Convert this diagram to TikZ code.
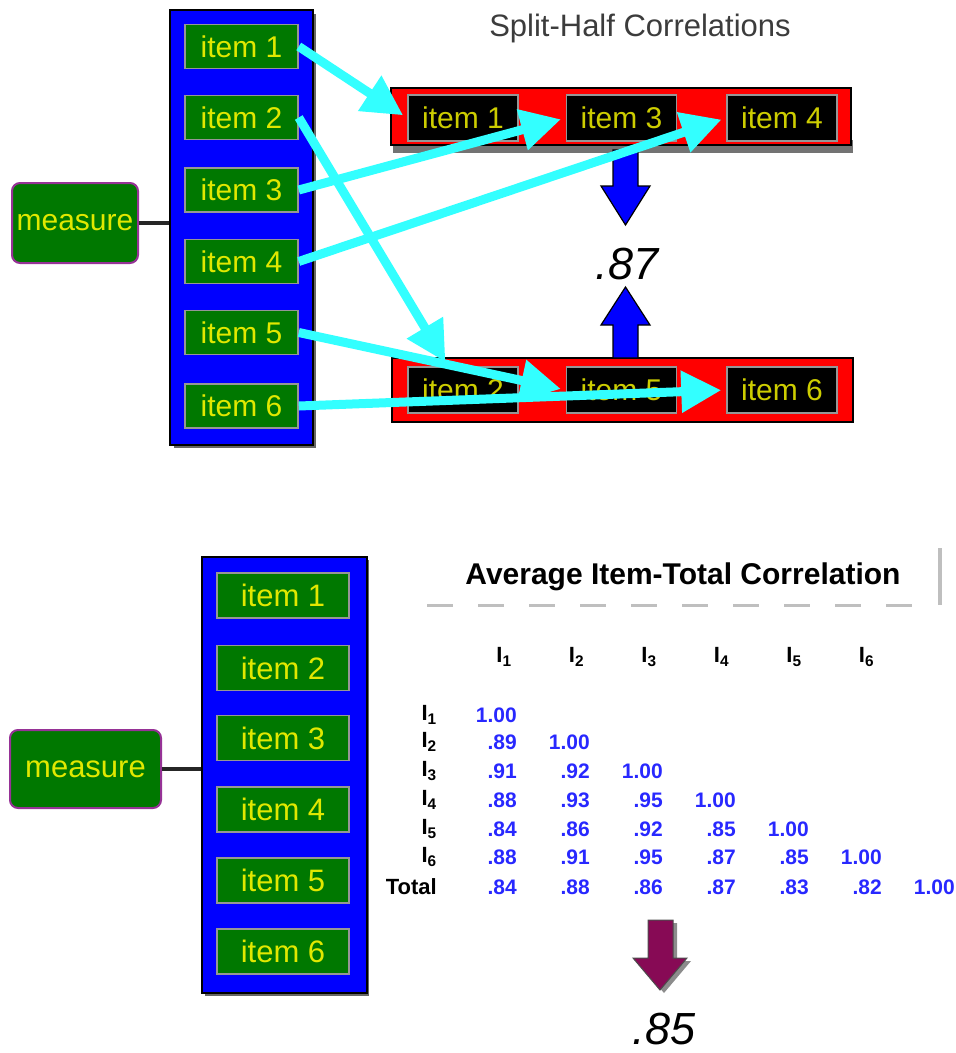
\documentclass[tikz,border=0pt]{standalone}
\usepackage{fontspec}
\setmainfont{Liberation Sans}
\usetikzlibrary{arrows.meta,calc}
\definecolor{itemgreen}{RGB}{0,120,0}
\definecolor{itemyellow}{RGB}{225,232,0}
\definecolor{dimyellow}{RGB}{205,205,0}
\definecolor{boxgray}{RGB}{150,150,150}
\definecolor{cyanarrow}{RGB}{51,255,255}
\definecolor{colblue}{RGB}{0,0,255}
\definecolor{measureborder}{RGB}{150,50,150}
\definecolor{valblue}{RGB}{40,40,255}
\definecolor{arrowpurple}{RGB}{135,10,85}
\definecolor{titlegray}{RGB}{60,60,60}
\definecolor{barred}{RGB}{255,0,0}
\begin{document}
\begin{tikzpicture}[x=1pt,y=-1pt,
  greenitem/.style={draw=boxgray, line width=1.5pt, fill=itemgreen, text=itemyellow,
    font=\fontsize{30}{32}\selectfont, minimum width=113pt, minimum height=44pt, inner sep=0pt},
  greenitemb/.style={greenitem, font=\fontsize{31}{33}\selectfont, minimum width=132pt, minimum height=45pt},
  blackitem/.style={draw=boxgray, line width=1.5pt, fill=black, text=dimyellow,
    font=\fontsize{30}{32}\selectfont, minimum width=110pt, minimum height=46pt, inner sep=0pt},
  measurebox/.style={draw=measureborder, line width=2pt, fill=itemgreen, text=itemyellow,
    rounded corners=8pt, font=\fontsize{30}{32}\selectfont, inner sep=0pt},
  bluecol/.style={draw=black, line width=2pt, fill=colblue, inner sep=0pt},
  redbar/.style={draw=black, line width=1.5pt, fill=barred, inner sep=0pt},
  cyanline/.style={draw=cyanarrow, line width=9pt, -{Triangle[length=40pt,width=40pt]}, shorten >=5pt},
  linkline/.style={draw=black!85, line width=3.5pt},
  val/.style={anchor=east, font=\bfseries\fontsize{21}{24}\selectfont, text=valblue, inner sep=0pt},
  lab/.style={anchor=east, font=\bfseries\fontsize{22}{24}\selectfont, text=black, inner sep=0pt},
  hdr/.style={font=\bfseries\fontsize{22}{24}\selectfont, text=black, inner sep=0pt},
  bignum/.style={font=\fontsize{45}{48}\selectfont\itshape, inner sep=0pt}
]
\useasboundingbox (0,0) rectangle (956,1053);

% ---------------- top part ----------------
\node[font=\fontsize{31}{34}\selectfont, text=titlegray] (title1) at (640,28) {Split-Half Correlations};

\fill[black!60] (174,14) rectangle (316,448);
\node[bluecol, minimum width=143pt, minimum height=435pt] (col1) at (241.5,227.5) {};
\node[greenitem] (a1) at (241.5,46.5) {item 1};
\node[greenitem] (a2) at (241.5,117.5) {item 2};
\node[greenitem] (a3) at (241.5,190) {item 3};
\node[greenitem] (a4) at (241.5,261.5) {item 4};
\node[greenitem] (a5) at (241.5,332.5) {item 5};
\node[greenitem] (a6) at (241.5,406) {item 6};

\node[measurebox, minimum width=126pt, minimum height=80pt] (m1) at (75,223) {measure};
\draw[linkline] (m1.east) -- (m1.east -| col1.west);

% red bars
\fill[black!55] (393,140) rectangle (853,153);
\node[redbar, minimum width=460pt, minimum height=57pt] (bar1) at (621,116.5) {};
\node[blackitem] (t1) at (463,118) {item 1};
\node[blackitem] (t3) at (621.5,118) {item 3};
\node[blackitem] (t4) at (782,118) {item 4};

\node[redbar, line width=2.5pt, minimum width=461pt, minimum height=64pt] (bar2) at (622.5,390) {};
\node[blackitem] (b2) at (463,390) {item 2};
\node[blackitem] (b3) at (621.5,390) {item 5};
\node[blackitem] (b4) at (782,390) {item 6};

\node[bignum, text=black] (v87) at (627,264) {.87};

% blue block arrows
\filldraw[fill=colblue, draw=black, line width=1.2pt]
  (613,150) -- (638,150) -- (638,186) -- (650,186) -- (625.5,225) -- (601,186) -- (613,186) -- cycle;
\filldraw[fill=colblue, draw=black, line width=1.2pt]
  (613,358) -- (638,358) -- (638,325) -- (650,325) -- (625.5,287) -- (601,325) -- (613,325) -- cycle;

% cyan connectors
\draw[cyanline] (a1.east) -- (t1.west);
\draw[cyanline] (a2.east) -- ($(b2.north)+(-15,0)$);
\draw[cyanline] (a3.east) -- (t3.west);
\draw[cyanline] (a4.east) -- (t4.west);
\draw[cyanline] (a5.east) -- (b3.west);
\draw[cyanline] (a6.east) -- (b4.west);

% ---------------- bottom part ----------------
\fill[black!60] (205,560) rectangle (369,996);
\node[bluecol, minimum width=165pt, minimum height=436pt] (col2) at (284.5,775) {};
\node[greenitemb] (c1) at (283,595.5) {item 1};
\node[greenitemb] (c2) at (283,668) {item 2};
\node[greenitemb] (c3) at (283,738) {item 3};
\node[greenitemb] (c4) at (283,809.5) {item 4};
\node[greenitemb] (c5) at (283,880.5) {item 5};
\node[greenitemb] (c6) at (283,951.5) {item 6};

\node[measurebox, font=\fontsize{31}{33}\selectfont, minimum width=151pt, minimum height=78pt] (m2) at (85.5,769) {measure};
\draw[linkline] (m2.east) -- (m2.east -| col2.west);

% title
\node[font=\bfseries\fontsize{30}{33}\selectfont, text=black] (title2) at (683,577) {Average Item-Total Correlation};
\draw[black!25, line width=3pt, dash pattern=on 26pt off 25pt] (427,605) -- (922,605);
\draw[black!25, line width=3.5pt] (940,548) -- (940,605);

% headers
\foreach \c in {1,...,6}
  \node[hdr] (h\c) at ({504+72.5*(\c-1)},657) {I\textsubscript{\c}};

% row labels
\foreach \r/\yy in {1/715,2/742,3/771,4/800,5/829,6/857}
  \node[lab] (l\r) at (437,\yy) {I\textsubscript{\r}};
\node[lab] (ltot) at (437,887) {Total};

% values
\foreach \v [count=\c] in {1.00}
  \node[val] (r1c\c) at ({444+73*\c},715) {\v};
\foreach \v [count=\c] in {.89,1.00}
  \node[val] (r2c\c) at ({444+73*\c},742) {\v};
\foreach \v [count=\c] in {.91,.92,1.00}
  \node[val] (r3c\c) at ({444+73*\c},771) {\v};
\foreach \v [count=\c] in {.88,.93,.95,1.00}
  \node[val] (r4c\c) at ({444+73*\c},800) {\v};
\foreach \v [count=\c] in {.84,.86,.92,.85,1.00}
  \node[val] (r5c\c) at ({444+73*\c},829) {\v};
\foreach \v [count=\c] in {.88,.91,.95,.87,.85,1.00}
  \node[val] (r6c\c) at ({444+73*\c},857) {\v};
\foreach \v [count=\c] in {.84,.88,.86,.87,.83,.82,1.00}
  \node[val] (r7c\c) at ({444+73*\c},887) {\v};

% purple arrow with shadow
\fill[black!45] (652,923) -- (677,923) -- (677,961) -- (691,961) -- (664,993) -- (637,961) -- (652,961) -- cycle;
\filldraw[fill=arrowpurple, draw=black!70, line width=1pt]
  (648,920) -- (673,920) -- (673,958) -- (687,958) -- (660,990) -- (633,958) -- (648,958) -- cycle;

\node[bignum, text=black] (v85) at (664,1029) {.85};
\end{tikzpicture}
\end{document}
